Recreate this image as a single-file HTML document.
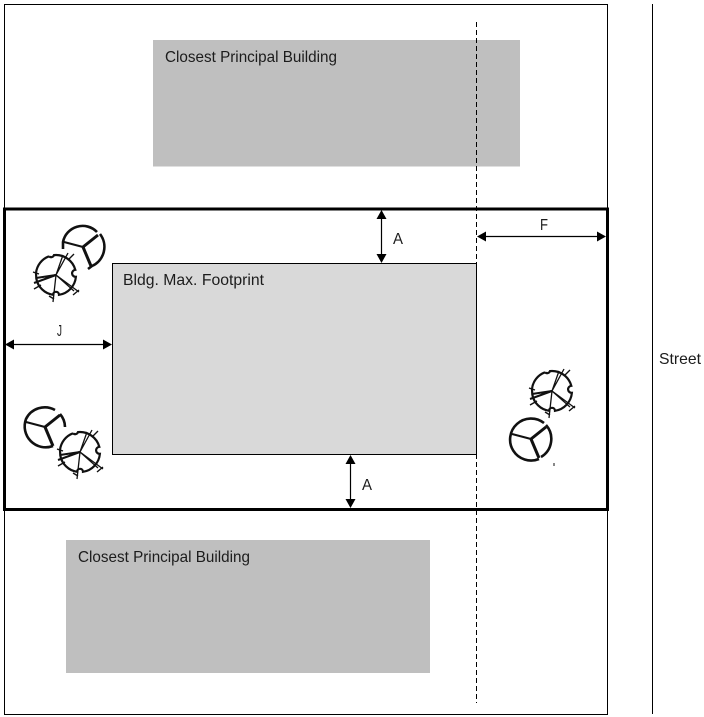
<!DOCTYPE html>
<html>
<head>
<meta charset="utf-8">
<style>
html,body{margin:0;padding:0;background:#fff;}
svg{display:block;}
text{font-family:"Liberation Sans",sans-serif;font-size:16px;fill:#1c1c1c;}
</style>
</head>
<body>
<svg width="704" height="717" viewBox="0 0 704 717" xmlns="http://www.w3.org/2000/svg">
<defs>
<g id="gear" fill="none" stroke="#111">
  <path stroke-width="2.2" d="M-7,-18.7 A3,3 0 0 0 -2,-19.9 A20,20 0 0 1 19.3,-5.2 A3,3 0 0 0 19.9,1.8 A20,20 0 0 1 3,19.8 A3,3 0 0 0 -3,19.8 A20,20 0 0 1 -19.7,3.5 L-20,-2 A20,20 0 0 1 -7,-18.7"/>
  <path stroke-width="1.3" d="M0,0 L12,-22 M0,0 L7,-20 M0,0 L-3,27 M0,0 L23,17 M0,0 L18,16"/>
  <path stroke-width="2" d="M0,0 L-22,8 M0,0 L-20,3"/>
  <path stroke-width="1.4" d="M18,-21 L13,-16 M-23,-3 L-17,-1 M-22,14 L-15,10 M23,15 L17,20 M-7,21 L-2,24"/>
</g>
<g id="spokes" fill="none" stroke="#111">
  <path stroke-width="2" d="M0,0 L-19,-5"/>
  <path stroke-width="3" d="M0,0 L15,-12"/>
  <path stroke-width="3" d="M0,0 L8,19"/>
</g>
</defs>

<rect x="4.5" y="4.5" width="603" height="710" fill="#fff" stroke="#000" stroke-width="1"/>
<rect x="153" y="40" width="367" height="126.5" fill="#bfbfbf"/>
<rect x="66" y="540" width="364" height="133" fill="#bfbfbf"/>
<rect x="4.5" y="209" width="603" height="300.5" fill="#fff" stroke="#000" stroke-width="3"/>
<rect x="112.5" y="263.5" width="364" height="191" fill="#d9d9d9" stroke="#000" stroke-width="1"/>
<line x1="476.5" y1="22" x2="476.5" y2="703" stroke="#000" stroke-width="1" stroke-dasharray="5 3"/>
<line x1="652.5" y1="4" x2="652.5" y2="714" stroke="#000" stroke-width="1"/>

<!-- arrows -->
<g stroke="#000" stroke-width="1.2" fill="#000">
  <line x1="381.5" y1="215" x2="381.5" y2="258"/>
  <path stroke="none" d="M381.5,210 L386.5,219 L376.5,219Z M381.5,263 L386.5,254 L376.5,254Z"/>
  <line x1="350.5" y1="461" x2="350.5" y2="503"/>
  <path stroke="none" d="M350.5,455 L355.5,464 L345.5,464Z M350.5,508 L355.5,499 L345.5,499Z"/>
  <line x1="482" y1="236.5" x2="602" y2="236.5"/>
  <path stroke="none" d="M477,236.5 L486,231.5 L486,241.5Z M606,236.5 L597,231.5 L597,241.5Z"/>
  <line x1="10" y1="344.5" x2="107" y2="344.5"/>
  <path stroke="none" d="M5,344.5 L14,339.5 L14,349.5Z M112,344.5 L103,339.5 L103,349.5Z"/>
</g>

<!-- trees -->
<g transform="translate(83,247)">
  <use href="#spokes"/>
  <path fill="none" stroke="#111" stroke-width="2.6" d="M-20,2 L-20,-5 A20,20 0 0 1 14,-15 M17,-13 A21,21 0 0 1 9,19 L5,22"/>
</g>
<use href="#gear" transform="translate(56,275)"/>

<g transform="translate(45,427)">
  <use href="#spokes"/>
  <path fill="none" stroke="#111" stroke-width="2.6" d="M8,19 A21,21 0 0 1 -19,-8 A21,21 0 0 1 10,-17 M15,-13 A20,20 0 0 1 20,0"/>
</g>
<use href="#gear" transform="translate(80,452)"/>

<use href="#gear" transform="translate(552,391)"/>
<g transform="translate(531,439)">
  <use href="#spokes"/>
  <path fill="none" stroke="#111" stroke-width="2.6" d="M8,20 A21,21 0 1 1 13,-16 M15,-14 A21,21 0 0 1 10,18"/>
  <path stroke="#111" stroke-width="1" d="M23,24 L23,27"/>
</g>

<!-- labels -->
<text x="165" y="62" textLength="172" lengthAdjust="spacingAndGlyphs">Closest Principal Building</text>
<text x="78" y="562" textLength="172" lengthAdjust="spacingAndGlyphs">Closest Principal Building</text>
<text x="123" y="285" textLength="141" lengthAdjust="spacingAndGlyphs">Bldg. Max. Footprint</text>
<text x="393" y="244" textLength="10" lengthAdjust="spacingAndGlyphs">A</text>
<text x="362" y="490" textLength="10" lengthAdjust="spacingAndGlyphs">A</text>
<text x="540" y="230" textLength="8" lengthAdjust="spacingAndGlyphs">F</text>
<text x="57" y="336" textLength="5" lengthAdjust="spacingAndGlyphs">J</text>
<text x="659" y="364" textLength="42" lengthAdjust="spacingAndGlyphs">Street</text>
</svg>
</body>
</html>
